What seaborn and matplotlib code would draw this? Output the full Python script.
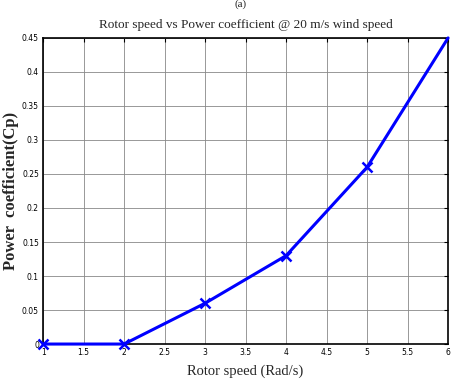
import matplotlib
matplotlib.use("Agg")
import matplotlib.pyplot as plt
import seaborn as sns
import pandas as pd

# rotor speed (rad/s) vs power coefficient
rotor_speed = [1, 2, 3, 4, 5, 6]
power_coeff = [0.0, 0.0, 0.06, 0.13, 0.26, 0.45]
x_ticks = [1, 1.5, 2, 2.5, 3, 3.5, 4, 4.5, 5, 5.5, 6]
y_ticks = [0, 0.05, 0.1, 0.15, 0.2, 0.25, 0.3, 0.35, 0.4, 0.45]

df = pd.DataFrame({"speed": rotor_speed, "cp": power_coeff})

sns.set_style("white")
plt.rcParams['font.family'] = ['Liberation Serif', 'DejaVu Serif']

fig = plt.figure(figsize=(4.54, 3.87), dpi=100)
ax = fig.add_axes([0.095, 0.111, 0.892, 0.791])

# last point sits in the corner, no marker drawn there in the original
sns.lineplot(data=df, x="speed", y="cp", ax=ax, color="#0000ff", linewidth=2.2,
             marker="x", markersize=7, markeredgewidth=1.8, markeredgecolor="#0000ff",
             markevery=[0, 1, 2, 3, 4], clip_on=False, zorder=3)

ax.set_xlim(1, 6)
ax.set_ylim(0, 0.45)
ax.set_xticks(x_ticks)
ax.set_yticks(y_ticks)
ax.set_xticklabels([f"{t:g}" for t in x_ticks], fontsize=5.5, family=['Liberation Sans Narrow', 'DejaVu Sans'])
ax.set_yticklabels([f"{t:g}" for t in y_ticks], fontsize=5.5, family=['Liberation Sans Narrow', 'DejaVu Sans'])
ax.tick_params(direction="in", length=3, width=0.8, colors="black", pad=3)
ax.tick_params(top=True, right=True)
ax.grid(True, color="#888888", linewidth=0.6)

for s in ax.spines.values():
    s.set_color("black")
    s.set_linewidth(1.2)

ax.set_xlabel("Rotor speed (Rad/s)", fontsize=10.5, labelpad=5)
ax.set_ylabel("Power  coefficient(Cp)", fontsize=12, fontweight="bold", labelpad=2)
ax.set_title("Rotor speed vs Power coefficient @ 20 m/s wind speed", fontsize=9.5, pad=7)
fig.text(0.53, 0.988, "(a)", ha="center", va="center", fontsize=8)

fig.savefig("out.png", dpi=100)
